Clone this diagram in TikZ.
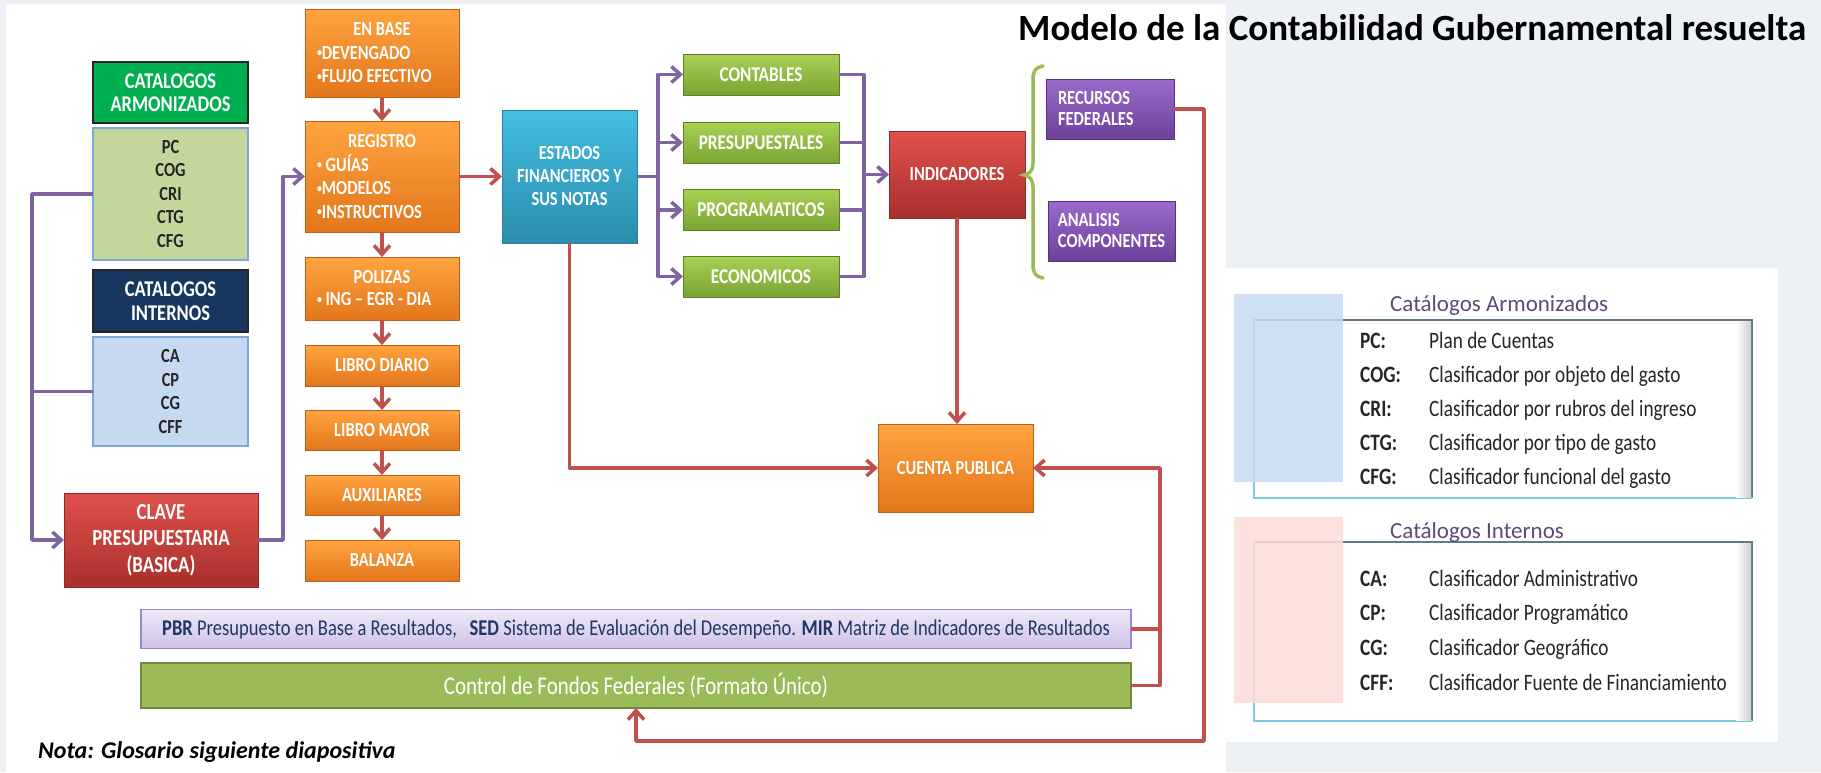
\documentclass[tikz,border=0pt]{standalone}
\usepackage{fontspec}
\setmainfont{Carlito}[FakeStretch=0.82]
\newfontfamily\widefont{Carlito}
\usetikzlibrary{arrows.meta,calc}
\newcommand\fsz[2]{\fontsize{#1}{#2}\selectfont}
\newcommand\bul{\raisebox{0.28ex}{\fsz{12}{12}•}}
\definecolor{bgc}{HTML}{EDF0F4}
\definecolor{purp}{HTML}{8064A2}
\definecolor{redl}{HTML}{C0504D}
\definecolor{orT}{HTML}{FFA43F}
\definecolor{orB}{HTML}{E3761C}
\definecolor{orD}{HTML}{B9611A}
\definecolor{dgreen}{HTML}{00B050}
\definecolor{lgreen}{HTML}{C3D69B}
\definecolor{navy}{HTML}{17375E}
\definecolor{lblue}{HTML}{C6D9F1}
\definecolor{lborder}{HTML}{7EA6D8}
\definecolor{rdT}{HTML}{E0504B}
\definecolor{rdB}{HTML}{A8302C}
\definecolor{rdD}{HTML}{8C2B28}
\definecolor{tlT}{HTML}{43BEE2}
\definecolor{tlB}{HTML}{2B8DAD}
\definecolor{tlD}{HTML}{2A7F9C}
\definecolor{grT}{HTML}{A9D154}
\definecolor{grB}{HTML}{7AA332}
\definecolor{grD}{HTML}{5F7F27}
\definecolor{puT}{HTML}{9A6BCB}
\definecolor{puB}{HTML}{6B4199}
\definecolor{puD}{HTML}{573480}
\definecolor{pbrT}{HTML}{EEE8F7}
\definecolor{pbrB}{HTML}{CFC2E8}
\definecolor{pbrD}{HTML}{9C88C6}
\definecolor{pbrTx}{HTML}{1F3864}
\definecolor{ctrl}{HTML}{9BBB59}
\definecolor{ctrlD}{HTML}{71893F}
\definecolor{headc}{HTML}{5F497A}
\definecolor{sqblue}{HTML}{C6DBF0}
\definecolor{sqpink}{HTML}{FDDCD8}
\definecolor{frD}{HTML}{5E7B87}
\definecolor{frL}{HTML}{7CCAE0}
\definecolor{txt}{HTML}{262626}
\definecolor{brc}{HTML}{9BBB59}
\tikzset{
  base/.style={inner sep=0pt, outer sep=0pt, align=center, text=white, font=\bfseries\fsz{20}{23.5}},
  orbox/.style={base, top color=orT, bottom color=orB, draw=orD, line width=1pt, minimum width=154pt},
  bullbox/.style={orbox, align=left},
  redbox/.style={base, top color=rdT, bottom color=rdB, draw=rdD, line width=1pt},
  tealbox/.style={base, top color=tlT, bottom color=tlB, draw=tlD, line width=1pt},
  grbox/.style={base, top color=grT, bottom color=grB, draw=grD, line width=1pt, minimum width=156pt, minimum height=41pt, font=\bfseries\fsz{21}{24}},
  pubox/.style={base, top color=puT, bottom color=puB, draw=puD, line width=1pt, align=left, font=\bfseries\fsz{20}{21}},
  hdgreen/.style={base, fill=dgreen, draw=black!85, line width=2pt, minimum width=155pt, font=\bfseries\fsz{22.5}{23.5}},
  hdnavy/.style={base, fill=navy, draw=black!85, line width=2pt, minimum width=155pt, font=\bfseries\fsz{22.5}{24}},
  listbox/.style={base, text=txt, draw=lborder, line width=1.5pt, minimum width=155pt},
  pline/.style={draw=purp, line width=3.5pt, line join=round},
  rline/.style={draw=redl, line width=3.5pt, line join=round},
  arr/.style={-{Straight Barb[length=9pt,width=16pt]}},
  abbr/.style={anchor=base west, inner sep=0pt, text=txt, font=\bfseries\fsz{23.5}{26}},
  desc/.style={anchor=base west, inner sep=0pt, text=txt, font=\fsz{23.5}{26}},
  head/.style={anchor=base west, inner sep=0pt, text=headc, font=\widefont\fsz{23}{26}},
}
\begin{document}
\begin{tikzpicture}[x=1pt,y=-1pt]
\useasboundingbox (0,0) rectangle (1821,772);
\fill[bgc] (0,0) rectangle (1821,772);
\fill[white] (6,4) rectangle (1226,772);
\fill[white] (1226,268) rectangle (1778,742);

% title
\node[anchor=base west, inner sep=0pt, font=\widefont\bfseries\fsz{37}{40}] (title) at (1018,40) {Modelo de la Contabilidad Gubernamental resuelta};

% catalog boxes
\node[hdgreen, minimum height=61pt] (ca) at (170.5,92.5) {CATALOGOS\\ARMONIZADOS};
\node[listbox, fill=lgreen, minimum height=132pt] (pclist) at (170.5,194) {PC\\COG\\CRI\\CTG\\CFG};
\node[hdnavy, minimum height=62pt] (ci) at (170.5,301) {CATALOGOS\\INTERNOS};
\node[listbox, fill=lblue, minimum height=109pt] (calist) at (170.5,391.5) {CA\\CP\\CG\\CFF};
\node[redbox, minimum width=194pt, minimum height=94pt, font=\bfseries\fsz{23}{26.5}] (clave) at (161,540) {CLAVE\\PRESUPUESTARIA\\(BASICA)};

% orange column
\node[bullbox, minimum height=88pt] (enbase) at (382,53) {\makebox[130pt][c]{EN BASE}\\\bul DEVENGADO\\\bul FLUJO EFECTIVO};
\node[bullbox, minimum height=111pt] (registro) at (382,176.5) {\makebox[130pt][c]{REGISTRO}\\\bul\ GUÍAS\\\bul MODELOS\\\bul INSTRUCTIVOS};
\node[bullbox, minimum height=63pt, font=\bfseries\fsz{20}{22}] (polizas) at (382,288.5) {\makebox[130pt][c]{POLIZAS}\\\bul\ ING – EGR - DIA};
\node[orbox, minimum height=41pt] (diario) at (382,365.5) {LIBRO DIARIO};
\node[orbox, minimum height=40pt] (mayor) at (382,430) {LIBRO MAYOR};
\node[orbox, minimum height=40pt] (aux) at (382,495) {AUXILIARES};
\node[orbox, minimum height=41pt] (balanza) at (382,560.5) {BALANZA};

% estados
\node[tealbox, minimum width=135pt, minimum height=133pt, font=\bfseries\fsz{20}{23}] (estados) at (569.5,176.5) {ESTADOS\\FINANCIEROS Y\\SUS NOTAS};

% green boxes
\node[grbox] (contables) at (761,74.5) {CONTABLES};
\node[grbox] (presup) at (761,142.5) {PRESUPUESTALES};
\node[grbox] (program) at (761,210) {PROGRAMATICOS};
\node[grbox] (econ) at (761,276.5) {ECONOMICOS};

% indicadores
\node[redbox, minimum width=136pt, minimum height=87pt] (indic) at (957,174.5) {INDICADORES};

% purple boxes
\node[pubox, minimum width=128pt, minimum height=60pt] (recursos) at (1110,109) {\makebox[104pt][l]{RECURSOS}\\FEDERALES};
\node[pubox, minimum width=127pt, minimum height=60pt] (analisis) at (1111.5,231) {\makebox[103pt][l]{ANALISIS}\\COMPONENTES};

% brace
\draw[brc, line width=3.5pt, line cap=round] (1043,66) .. controls (1036,67) and (1033,71) .. (1033,79)
  -- (1033,163) .. controls (1033,170) and (1030,174) .. (1024,175)
  .. controls (1030,176) and (1033,180) .. (1033,187)
  -- (1033,265) .. controls (1033,273) and (1036,277) .. (1043,278);

% cuenta publica
\node[orbox, minimum width=155pt, minimum height=88pt] (cuenta) at (955.5,468) {CUENTA PUBLICA};

% bottom bars
\node[base, top color=pbrT, bottom color=pbrB, draw=pbrD, line width=1.5pt, minimum width=990pt, minimum height=39pt, text=pbrTx, font=\fsz{22.6}{25}] (pbr) at (636,629) {\textbf{PBR} Presupuesto en Base a Resultados,\ \ \ \textbf{SED} Sistema de Evaluación del Desempeño. \textbf{MIR} Matriz de Indicadores de Resultados};
\node[base, fill=ctrl, draw=ctrlD, line width=2pt, minimum width=990pt, minimum height=45pt, font=\fsz{25.5}{27}] (control) at (636,685.5) {Control de Fondos Federales (Formato Único)};

% nota
\node[anchor=base west, inner sep=0pt, font=\widefont\bfseries\itshape\fsz{24}{26}] (nota) at (38,758) {Nota: Glosario siguiente diapositiva};

% purple connectors
\draw[pline, arr] (pclist.west) -- ++(-61,0) |- (clave.west);
\draw[pline] (calist.west) -- ++(-61,0);
\draw[pline, arr] (clave.east) -- ++(25,0) |- (registro.west);
\coordinate (lb) at ($(estados.east)+(21,0)$);
\draw[pline] (estados.east) -- (lb);
\draw[pline, arr] (lb) |- (contables.west);
\draw[pline, arr] (lb) |- (presup.west);
\draw[pline, arr] (lb) |- (program.west);
\draw[pline, arr] (lb) |- (econ.west);
\coordinate (rb) at ($(contables.east)+(25,0)$);
\draw[pline] (contables.east) -- (rb) |- (econ.east);
\draw[pline] (presup.east) -- (presup.east -| rb);
\draw[pline] (program.east) -- (program.east -| rb);
\draw[pline, arr] (rb |- indic.west) -- (indic.west);

% red connectors
\draw[rline, arr] (enbase.south) -- (registro.north);
\draw[rline, arr] (registro.south) -- (polizas.north);
\draw[rline, arr] (polizas.south) -- (diario.north);
\draw[rline, arr] (diario.south) -- (mayor.north);
\draw[rline, arr] (mayor.south) -- (aux.north);
\draw[rline, arr] (aux.south) -- (balanza.north);
\draw[rline, arr] (registro.east) -- (estados.west);
\draw[rline, arr] (estados.south) |- (cuenta.west);
\draw[rline, arr] (indic.south) -- (indic.south |- cuenta.north);
\draw[rline] (pbr.east) -- ++(29,0);
\draw[rline, arr] (control.east) -- ++(29,0) |- (cuenta.east);
\draw[rline, arr] (recursos.east) -| (1204,741) -| (control.south);

% right panel: armonizados
\draw[frD, line width=1.5pt] (1254,320) -- (1752,320) -- (1752,498);
\draw[frL, line width=1.5pt] (1254,320) -- (1254,498) -- (1752,498);
\shade[left color=white, right color=black!18] (1736,321) rectangle (1751,497);
\fill[sqblue, opacity=0.85] (1234,294) rectangle (1343,482);
\node[head] (h1) at (1390,311) {Catálogos Armonizados};
\node[abbr] (a1) at (1360,348) {PC:};
\node[desc] (d1) at (1429,348) {Plan de Cuentas};
\node[abbr] (a2) at (1360,382) {COG:};
\node[desc] (d2) at (1429,382) {Clasificador por objeto del gasto};
\node[abbr] (a3) at (1360,416) {CRI:};
\node[desc] (d3) at (1429,416) {Clasificador por rubros del ingreso};
\node[abbr] (a4) at (1360,450) {CTG:};
\node[desc] (d4) at (1429,450) {Clasificador por tipo de gasto};
\node[abbr] (a5) at (1360,484) {CFG:};
\node[desc] (d5) at (1429,484) {Clasificador funcional del gasto};

% right panel: internos
\draw[frD, line width=1.5pt] (1254,542) -- (1752,542) -- (1752,721);
\draw[frL, line width=1.5pt] (1254,542) -- (1254,721) -- (1752,721);
\shade[left color=white, right color=black!18] (1736,543) rectangle (1751,720);
\fill[sqpink, opacity=0.85] (1234,517) rectangle (1343,703);
\node[head] (h2) at (1390,538) {Catálogos Internos};
\node[abbr] (b1) at (1360,586) {CA:};
\node[desc] (e1) at (1429,586) {Clasificador Administrativo};
\node[abbr] (b2) at (1360,620) {CP:};
\node[desc] (e2) at (1429,620) {Clasificador Programático};
\node[abbr] (b3) at (1360,655) {CG:};
\node[desc] (e3) at (1429,655) {Clasificador Geográfico};
\node[abbr] (b4) at (1360,690) {CFF:};
\node[desc] (e4) at (1429,690) {Clasificador Fuente de Financiamiento};
\end{tikzpicture}
\end{document}
